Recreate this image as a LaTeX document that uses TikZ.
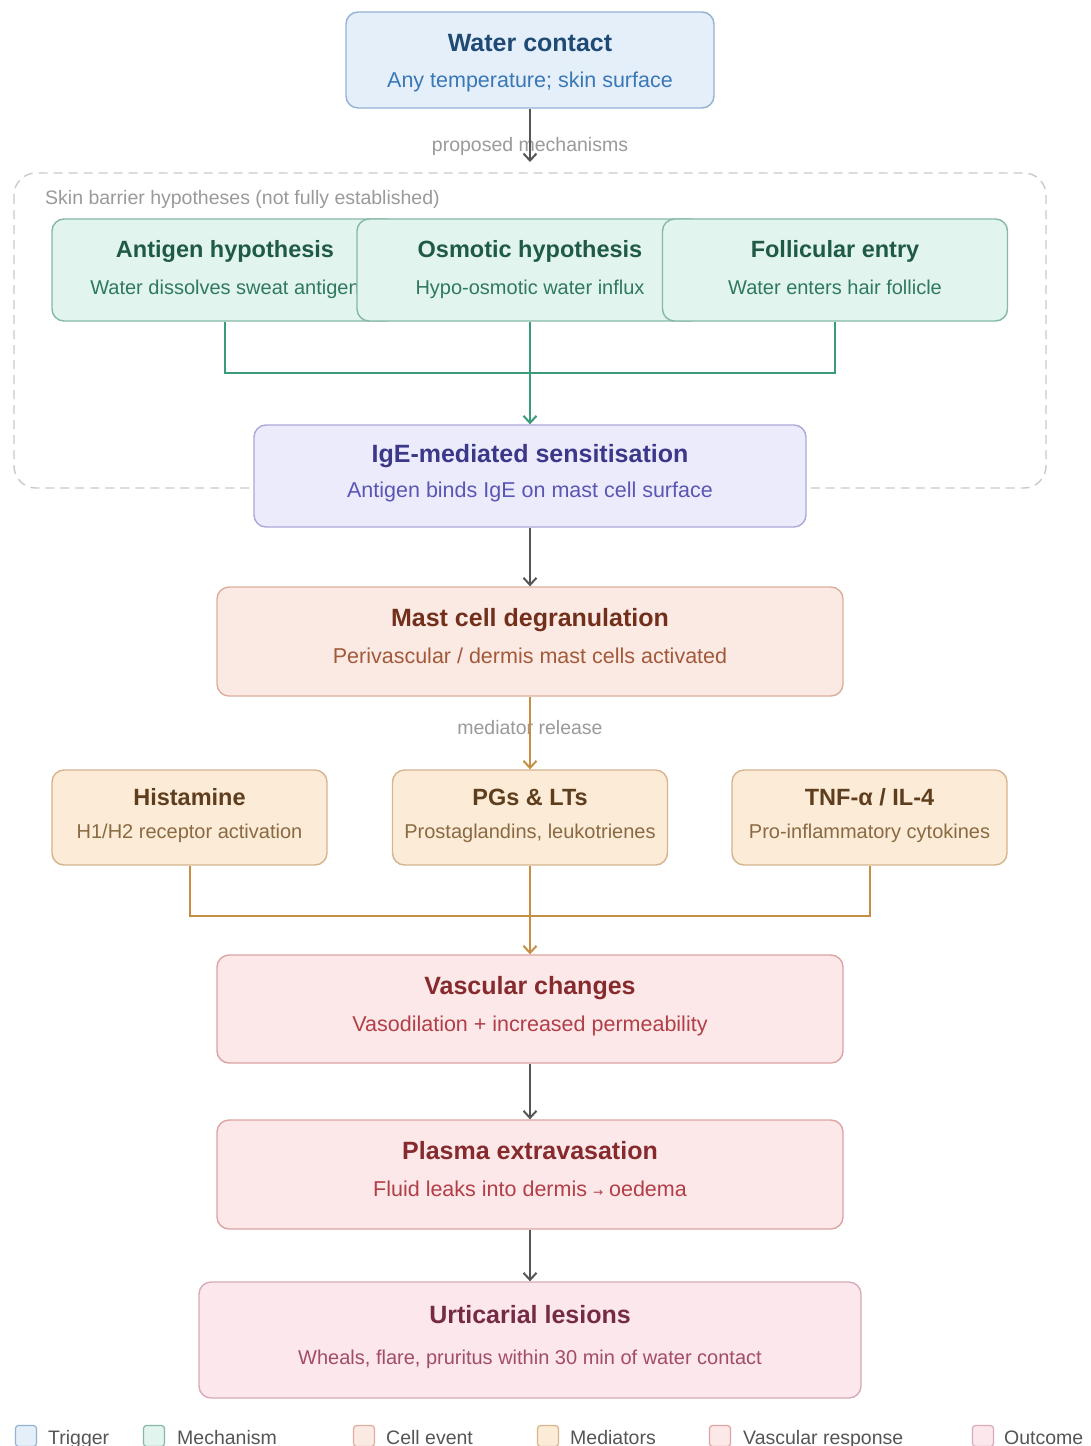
\documentclass[tikz,border=0pt]{standalone}
\usepackage{fontspec}
\setmainfont{Liberation Sans}
\newfontfamily\symfont{DejaVu Sans}
\usetikzlibrary{arrows.meta}
\definecolor{trigF}{HTML}{E4EFFA}\definecolor{trigD}{HTML}{94B3D3}\definecolor{trigT}{HTML}{1F4A73}\definecolor{trigS}{HTML}{3A78B5}
\definecolor{mechF}{HTML}{E1F4EE}\definecolor{mechD}{HTML}{86B8A8}\definecolor{mechT}{HTML}{1F5A47}\definecolor{mechS}{HTML}{2F7862}\definecolor{mechL}{HTML}{3A9A7C}
\definecolor{igeF}{HTML}{ECEBFC}\definecolor{igeD}{HTML}{ABA8DA}\definecolor{igeT}{HTML}{3B388A}\definecolor{igeS}{HTML}{5A56B3}
\definecolor{mastF}{HTML}{FBEAE4}\definecolor{mastD}{HTML}{DDAE9E}\definecolor{mastT}{HTML}{72301C}\definecolor{mastS}{HTML}{A25A3A}
\definecolor{medF}{HTML}{FBEBD7}\definecolor{medD}{HTML}{D5B48E}\definecolor{medT}{HTML}{5F3E1E}\definecolor{medS}{HTML}{8A6A42}\definecolor{medL}{HTML}{C48E44}
\definecolor{vasF}{HTML}{FCE8E8}\definecolor{vasD}{HTML}{DDA4A4}\definecolor{vasT}{HTML}{862A2E}\definecolor{vasS}{HTML}{B23E48}
\definecolor{outF}{HTML}{FBE7EC}\definecolor{outD}{HTML}{D9AAB8}\definecolor{outT}{HTML}{762B44}\definecolor{outS}{HTML}{A24C68}
\definecolor{grayL}{HTML}{555555}\definecolor{labT}{HTML}{9A9A9A}\definecolor{dashC}{HTML}{CACACA}
\begin{document}
\begin{tikzpicture}[x=1pt,y=-1pt,
  boxnode/.style={draw, line width=1.4pt, rounded corners=12pt, inner sep=0pt},
  txt/.style={inner sep=0pt, text height=0.72em, text depth=0.22em},
  ttl/.style={txt, font=\fontsize{25}{30}\selectfont\bfseries},
  sub/.style={txt, font=\fontsize{21.5}{26}\selectfont},
  ttls/.style={txt, font=\fontsize{23.5}{28}\selectfont\bfseries},
  subs/.style={txt, font=\fontsize{20}{24}\selectfont},
  edgelab/.style={txt, font=\fontsize{19.5}{24}\selectfont, text=labT},
  legtxt/.style={txt, font=\fontsize{19.5}{24}\selectfont, text=grayL, anchor=west},
  legsq/.style={draw, line width=1.2pt, rounded corners=3pt, minimum width=21pt, minimum height=21pt, inner sep=0pt},
  arr/.style={draw=grayL, line width=2pt, -{Straight Barb[length=7pt,width=13pt]}},
  garr/.style={draw=mechL, line width=2pt, -{Straight Barb[length=7pt,width=13pt]}},
  gline/.style={draw=mechL, line width=2pt},
  oarr/.style={draw=medL, line width=2pt, -{Straight Barb[length=7pt,width=13pt]}},
  oline/.style={draw=medL, line width=2pt}]
\useasboundingbox[fill=white] (0,0) rectangle (1090,1446);

% container
\draw[dashC, line width=1.4pt, dash pattern=on 9pt off 6pt, rounded corners=22pt] (14,173) rectangle (1046,488);
\node[txt, font=\fontsize{19.5}{24}\selectfont, text=labT, anchor=west] (cont) at (45,202) {Skin barrier hypotheses (not fully established)};

% trigger
\node[boxnode, fill=trigF, draw=trigD, minimum width=368pt, minimum height=96pt] (wc) at (530,60) {};
\node[ttl, text=trigT] (wct) at (530,49) {Water contact};
\node[sub, text=trigS] (wcs) at (530,85) {Any temperature; skin surface};

% mechanisms
\node[boxnode, fill=mechF, draw=mechD, minimum width=346pt, minimum height=102pt] (ah) at (225,270) {};
\node[ttls, text=mechT] (aht) at (225,255) {Antigen hypothesis};
\node[subs, text=mechS] (ahs) at (225,292) {Water dissolves sweat antigen};
\node[boxnode, fill=mechF, draw=mechD, minimum width=346pt, minimum height=102pt] (oh) at (530,270) {};
\node[ttls, text=mechT] (oht) at (530,255) {Osmotic hypothesis};
\node[subs, text=mechS] (ohs) at (530,292) {Hypo-osmotic water influx};
\node[boxnode, fill=mechF, draw=mechD, minimum width=345pt, minimum height=102pt] (fe) at (835,270) {};
\node[ttls, text=mechT] (fet) at (835,255) {Follicular entry};
\node[subs, text=mechS] (fes) at (835,292) {Water enters hair follicle};

% IgE
\node[boxnode, fill=igeF, draw=igeD, minimum width=552pt, minimum height=102pt] (ige) at (530,476) {};
\node[ttl, text=igeT] (iget) at (530,460) {IgE-mediated sensitisation};
\node[sub, text=igeS] (iges) at (530,495) {Antigen binds IgE on mast cell surface};

% mast cell
\node[boxnode, fill=mastF, draw=mastD, minimum width=626pt, minimum height=109pt] (mc) at (530,641.5) {};
\node[ttl, text=mastT] (mct) at (530,624) {Mast cell degranulation};
\node[sub, text=mastS] (mcs) at (530,661) {Perivascular / dermis mast cells activated};

% mediators
\node[boxnode, fill=medF, draw=medD, minimum width=275pt, minimum height=95pt] (hi) at (189.5,817.5) {};
\node[ttls, text=medT] (hit) at (189.5,803) {Histamine};
\node[subs, text=medS] (his) at (189.5,836) {H1/H2 receptor activation};
\node[boxnode, fill=medF, draw=medD, minimum width=275pt, minimum height=95pt] (pg) at (530,817.5) {};
\node[ttls, text=medT] (pgt) at (530,803) {PGs \& LTs};
\node[subs, text=medS] (pgs) at (530,836) {Prostaglandins, leukotrienes};
\node[boxnode, fill=medF, draw=medD, minimum width=275pt, minimum height=95pt] (tn) at (869.5,817.5) {};
\node[ttls, text=medT] (tnt) at (869.5,803) {TNF-α / IL-4};
\node[subs, text=medS] (tns) at (869.5,836) {Pro-inflammatory cytokines};

% vascular
\node[boxnode, fill=vasF, draw=vasD, minimum width=626pt, minimum height=108pt] (vc) at (530,1009) {};
\node[ttl, text=vasT] (vct) at (530,992) {Vascular changes};
\node[sub, text=vasS] (vcs) at (530,1029) {Vasodilation + increased permeability};
\node[boxnode, fill=vasF, draw=vasD, minimum width=626pt, minimum height=109pt] (pe) at (530,1174.5) {};
\node[ttl, text=vasT] (pet) at (530,1157) {Plasma extravasation};
\node[sub, text=vasS] (pes) at (530,1194) {Fluid leaks into dermis {\symfont\fontsize{12}{14}\selectfont →} oedema};

% outcome
\node[boxnode, fill=outF, draw=outD, minimum width=662pt, minimum height=116pt] (ul) at (530,1340) {};
\node[ttl, text=outT] (ult) at (530,1321) {Urticarial lesions};
\node[subs, text=outS] (uls) at (530,1362) {Wheals, flare, pruritus within 30 min of water contact};

% edge labels
\node[edgelab] (l1) at (530,149) {proposed mechanisms};
\node[edgelab] (l2) at (530,732) {mediator release};

% connectors
\draw[arr] (wc.south) -- (530,162);
\coordinate (mj) at (530,373);
\draw[gline] (ah.south) |- (mj) -| (fe.south);
\draw[garr] (oh.south) -- (ige.north);
\draw[arr] (ige.south) -- (mc.north);
\draw[oarr] (mc.south) -- (pg.north);
\coordinate (oj) at (530,916);
\draw[oline] (hi.south) |- (oj) -| (tn.south);
\draw[oarr] (pg.south) -- (vc.north);
\draw[arr] (vc.south) -- (pe.north);
\draw[arr] (pe.south) -- (ul.north);

% legend
\node[legsq, fill=trigF, draw=trigD] (k1) at (26,1436) {};
\node[legtxt] (k1t) at (48,1442) {Trigger};
\node[legsq, fill=mechF, draw=mechD] (k2) at (154,1436) {};
\node[legtxt] (k2t) at (177,1442) {Mechanism};
\node[legsq, fill=mastF, draw=mastD] (k3) at (364,1436) {};
\node[legtxt] (k3t) at (386,1442) {Cell event};
\node[legsq, fill=medF, draw=medD] (k4) at (548,1436) {};
\node[legtxt] (k4t) at (570,1442) {Mediators};
\node[legsq, fill=vasF, draw=vasD] (k5) at (720,1436) {};
\node[legtxt] (k5t) at (743,1442) {Vascular response};
\node[legsq, fill=outF, draw=outD] (k6) at (983,1436) {};
\node[legtxt] (k6t) at (1004,1442) {Outcome};
\end{tikzpicture}
\end{document}
